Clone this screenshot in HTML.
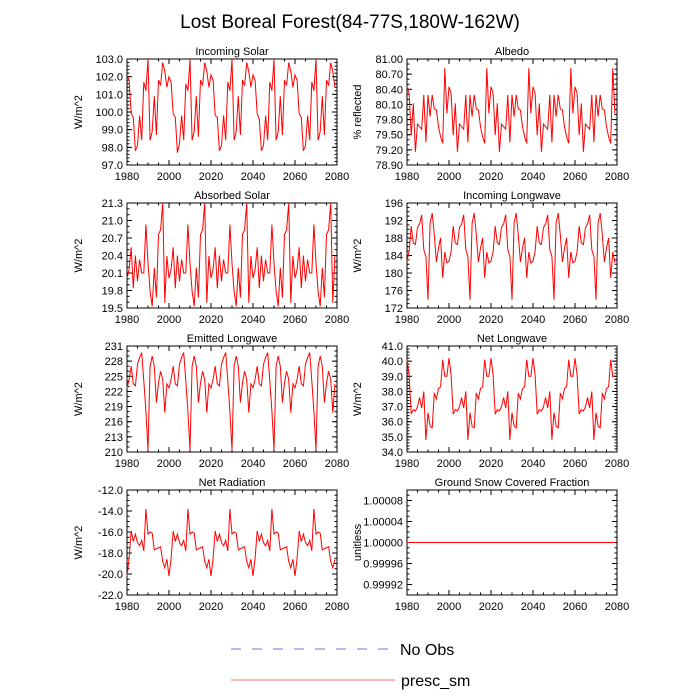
<!DOCTYPE html>
<html><head><meta charset="utf-8"><style>
html,body{margin:0;padding:0;background:#fff;}
svg{display:block;font-family:"Liberation Sans",sans-serif;}
</style></head><body>
<svg id="chart" width="700" height="700" viewBox="0 0 700 700" xmlns="http://www.w3.org/2000/svg">
<text x="350" y="28" font-size="19" text-anchor="middle">Lost Boreal Forest(84-77S,180W-162W)</text>
<g id="panels"></g>
<g>
<line x1="231" y1="649" x2="390" y2="649" stroke="#7070e8" stroke-width="1" stroke-dasharray="10,11"/>
<text x="400" y="655" font-size="16">No Obs</text>
<line x1="231" y1="680" x2="395" y2="680" stroke="#ff7070" stroke-width="1"/>
<text x="401" y="686" font-size="16">presc_sm</text>
</g>
</svg>
<script>
const years = [];
for (let y = 1980; y < 2080; y++) years.push(y);
const xTicks = [1980, 2000, 2020, 2040, 2060, 2080];

const incomingSolar = [
102.1,101.8,99.9,99.7,97.8,98.1,99.8,98.4,101.7,101.2,103.0,98.4,98.9,100.9,98.7,101.8,101.5,102.8,102.3,101.4,
102.0,101.7,99.9,99.7,97.7,98.2,99.8,98.4,101.6,101.2,103.0,98.4,98.9,100.9,98.6,101.8,101.5,102.8,102.3,101.4,
102.1,101.8,99.8,99.7,97.8,98.1,99.8,98.4,101.7,101.2,103.0,98.4,98.9,100.9,98.7,101.8,101.5,102.8,102.3,101.4,
102.1,101.8,99.9,99.6,97.8,98.1,99.8,98.4,101.7,101.2,103.0,98.4,98.9,100.9,98.7,101.8,101.5,102.8,102.3,101.4,
102.1,101.8,99.9,99.7,97.8,98.1,99.8,98.4,101.7,101.2,103.0,98.4,98.9,100.9,98.7,101.8,101.5,102.8,102.3,101.4];
const albedo = [
80.45,80.32,79.49,80.12,79.16,79.71,79.66,79.61,80.29,79.35,80.29,79.86,80.29,80.01,79.99,79.66,79.46,79.33,80.82,79.92,
80.45,80.32,79.49,80.12,79.16,79.71,79.66,79.61,80.29,79.35,80.29,79.86,80.29,80.01,79.99,79.66,79.46,79.33,80.82,79.92,
80.45,80.32,79.49,80.12,79.16,79.71,79.66,79.61,80.29,79.35,80.29,79.86,80.29,80.01,79.99,79.66,79.46,79.33,80.82,79.92,
80.45,80.32,79.49,80.12,79.16,79.71,79.66,79.61,80.29,79.35,80.29,79.86,80.29,80.01,79.99,79.66,79.46,79.33,80.82,79.92,
80.45,80.32,79.49,80.12,79.16,79.71,79.66,79.61,80.29,79.35,80.29,79.86,80.29,80.01,79.99,79.66,79.46,79.33,80.82,79.92];
const absorbedSolar = [
20.01,20.16,20.54,19.84,20.40,19.96,20.33,20.10,20.10,20.93,20.27,19.79,19.53,20.19,19.68,20.76,20.84,21.30,19.59,20.39,
20.01,20.16,20.54,19.84,20.40,19.96,20.33,20.10,20.10,20.93,20.27,19.79,19.53,20.19,19.68,20.76,20.84,21.30,19.59,20.39,
20.01,20.16,20.54,19.84,20.40,19.96,20.33,20.10,20.10,20.93,20.27,19.79,19.53,20.19,19.68,20.76,20.84,21.30,19.59,20.39,
20.01,20.16,20.54,19.84,20.40,19.96,20.33,20.10,20.10,20.93,20.27,19.79,19.53,20.19,19.68,20.76,20.84,21.30,19.59,20.39,
20.01,20.16,20.54,19.84,20.40,19.96,20.33,20.10,20.10,20.93,20.27,19.79,19.53,20.19,19.68,20.76,20.84,21.30,19.59,20.39];
const incomingLW = [
182.7,184.9,190.7,186.9,186.5,190.4,191.2,193.3,185.3,183.8,173.9,191.4,193.7,188.8,182.5,185.7,188.0,178.9,184.8,182.3,
182.7,184.9,190.7,186.9,186.5,190.4,191.2,193.3,185.3,183.8,173.9,191.4,193.7,188.8,182.5,185.7,188.0,178.9,184.8,182.3,
182.7,184.9,190.7,186.9,186.5,190.4,191.2,193.3,185.3,183.8,173.9,191.4,193.7,188.8,182.5,185.7,188.0,178.9,184.8,182.3,
182.7,184.9,190.7,186.9,186.5,190.4,191.2,193.3,185.3,183.8,173.9,191.4,193.7,188.8,182.5,185.7,188.0,178.9,184.8,182.3,
182.7,184.9,190.7,186.9,186.5,190.4,191.2,193.3,185.3,183.8,173.9,191.4,193.7,188.8,182.5,185.7,188.0,178.9,184.8,182.3];
const emittedLW = [
222.7,224.4,227.0,223.5,223.1,227.4,228.7,229.7,224.1,218.1,210.4,227.0,229.0,227.0,219.8,223.7,226.0,224.4,217.8,223.5,
222.7,224.4,227.0,223.5,223.1,227.4,228.7,229.7,224.1,218.1,210.4,227.0,229.0,227.0,219.8,223.7,226.0,224.4,217.8,223.5,
222.7,224.4,227.0,223.5,223.1,227.4,228.7,229.7,224.1,218.1,210.4,227.0,229.0,227.0,219.8,223.7,226.0,224.4,217.8,223.5,
222.7,224.4,227.0,223.5,223.1,227.4,228.7,229.7,224.1,218.1,210.4,227.0,229.0,227.0,219.8,223.7,226.0,224.4,217.8,223.5,
222.7,224.4,227.0,223.5,223.1,227.4,228.7,229.7,224.1,218.1,210.4,227.0,229.0,227.0,219.8,223.7,226.0,224.4,217.8,223.5];
const netLW = [
40.1,39.1,36.5,36.8,36.7,37.0,37.6,36.9,38.0,34.8,36.6,35.7,35.6,37.9,37.5,38.2,38.3,40.1,39.0,39.0,
40.2,39.1,36.5,36.8,36.7,37.0,37.6,36.9,38.0,34.8,36.6,35.7,35.6,37.9,37.5,38.2,38.3,40.1,39.0,39.0,
40.2,39.1,36.5,36.8,36.7,37.0,37.6,36.9,38.0,34.8,36.6,35.7,35.6,37.9,37.5,38.2,38.3,40.1,39.0,39.0,
40.2,39.1,36.5,36.8,36.7,37.0,37.6,36.9,38.0,34.8,36.6,35.7,35.6,37.9,37.5,38.2,38.3,40.1,39.0,39.0,
40.2,39.1,36.5,36.8,36.7,37.0,37.6,36.9,38.0,34.8,36.6,35.7,35.6,37.9,37.5,38.2,38.3,40.1,39.0,39.0];
const netRadiation = [
-20.2,-18.5,-15.9,-16.9,-16.2,-17.0,-17.3,-16.8,-17.8,-13.8,-16.2,-16.0,-16.1,-17.7,-17.6,-17.5,-17.4,-18.8,-19.4,-18.6,
-20.2,-18.5,-15.9,-16.9,-16.2,-17.0,-17.3,-16.8,-17.8,-13.8,-16.2,-16.0,-16.1,-17.7,-17.6,-17.5,-17.4,-18.8,-19.4,-18.6,
-20.2,-18.5,-15.9,-16.9,-16.2,-17.0,-17.3,-16.8,-17.8,-13.8,-16.2,-16.0,-16.1,-17.7,-17.6,-17.5,-17.4,-18.8,-19.4,-18.6,
-20.2,-18.5,-15.9,-16.9,-16.2,-17.0,-17.3,-16.8,-17.8,-13.8,-16.2,-16.0,-16.1,-17.7,-17.6,-17.5,-17.4,-18.8,-19.4,-18.6,
-20.2,-18.5,-15.9,-16.9,-16.2,-17.0,-17.3,-16.8,-17.8,-13.8,-16.2,-16.0,-16.1,-17.7,-17.6,-17.5,-17.4,-18.8,-19.4,-18.6];
const snowFraction = years.map(() => 1.0);

const ticksSolar = ["97.0","98.0","99.0","100.0","101.0","102.0","103.0"];
const ticksAlbedo = ["78.90","79.20","79.50","79.80","80.10","80.40","80.70","81.00"];
const ticksAbsorbed = ["19.5","19.8","20.1","20.4","20.7","21.0","21.3"];
const ticksInLW = ["172","176","180","184","188","192","196"];
const ticksEmLW = ["210","213","216","219","222","225","228","231"];
const ticksNetLW = ["34.0","35.0","36.0","37.0","38.0","39.0","40.0","41.0"];
const ticksNetRad = ["-22.0","-20.0","-18.0","-16.0","-14.0","-12.0"];
const ticksSnow = ["0.99992","0.99996","1.00000","1.00004","1.00008"];

const panels = [
 {name:"incoming-solar", title:"Incoming Solar", ytitle:"W/m^2", data:incomingSolar, ticks:ticksSolar, ymin:97, ymax:103, col:0, row:0, minor:5},
 {name:"albedo", title:"Albedo", ytitle:"% reflected", data:albedo, ticks:ticksAlbedo, ymin:78.9, ymax:81.0, col:1, row:0, minor:3},
 {name:"absorbed-solar", title:"Absorbed Solar", ytitle:"W/m^2", data:absorbedSolar, ticks:ticksAbsorbed, ymin:19.5, ymax:21.3, col:0, row:1, minor:3},
 {name:"incoming-longwave", title:"Incoming Longwave", ytitle:"W/m^2", data:incomingLW, ticks:ticksInLW, ymin:172, ymax:196, col:1, row:1, minor:4},
 {name:"emitted-longwave", title:"Emitted Longwave", ytitle:"W/m^2", data:emittedLW, ticks:ticksEmLW, ymin:210, ymax:231, col:0, row:2, minor:3},
 {name:"net-longwave", title:"Net Longwave", ytitle:"W/m^2", data:netLW, ticks:ticksNetLW, ymin:34, ymax:41, col:1, row:2, minor:5},
 {name:"net-radiation", title:"Net Radiation", ytitle:"W/m^2", data:netRadiation, ticks:ticksNetRad, ymin:-22, ymax:-12, col:0, row:3, minor:4},
 {name:"ground-snow-covered-fraction", title:"Ground Snow Covered Fraction", ytitle:"unitless", data:snowFraction, ticks:ticksSnow, ymin:0.9999, ymax:1.0001, col:1, row:3, minor:4, tickmin:0.99992, tickstep:0.00004}
];

const NS = "http://www.w3.org/2000/svg";
const colX = [127, 407], W = 210;
const rowY = [[59,165],[203,308],[346,452],[490,595]];
const root = document.getElementById("panels");
function mk(tag, attrs, parent){
  const e = document.createElementNS(NS, tag);
  for (const k in attrs) e.setAttribute(k, attrs[k]);
  parent.appendChild(e);
  return e;
}
panels.forEach(p => {
  const x0 = colX[p.col], x1 = x0 + W, y0 = rowY[p.row][0], y1 = rowY[p.row][1];
  const g = mk("g", {}, root);
  
  
  const xs = v => x0 + (v - 1980) / 100 * W;
  const ys = v => y1 - (v - p.ymin) / (p.ymax - p.ymin) * (y1 - y0);
  // ticks
  const tk = mk("g", {stroke:"#000", "stroke-width":"1"}, g);
  
  
  for (let yr = 1980; yr <= 2080; yr += 5) {
    const X = xs(yr), len = (yr % 20 === 0) ? 5 : 2.5;
    mk("line", {x1:X, y1:y1, x2:X, y2:y1-len}, tk);
    mk("line", {x1:X, y1:y0, x2:X, y2:y0+len}, tk);
  }
  const tmin = p.tickmin !== undefined ? p.tickmin : parseFloat(p.ticks[0]);
  const step = p.tickstep !== undefined ? p.tickstep : (parseFloat(p.ticks[1]) - parseFloat(p.ticks[0]));
  const mstep = step / p.minor;
  for (let v = tmin - step; v <= p.ymax + 1e-9; v += mstep) {
    if (v < p.ymin - 1e-9) continue;
    const Y = ys(v);
    mk("line", {x1:x0, y1:Y, x2:x0+2.5, y2:Y}, tk);
    mk("line", {x1:x1, y1:Y, x2:x1-2.5, y2:Y}, tk);
  }
  p.ticks.forEach((t, i) => {
    const v = tmin + i * step, Y = ys(v);
    mk("line", {x1:x0, y1:Y, x2:x0+5, y2:Y}, tk);
    mk("line", {x1:x1, y1:Y, x2:x1-5, y2:Y}, tk);
    const lb = mk("text", {x:x0-4, y:Y+4, "font-size":"11", "text-anchor":"end"}, g);
    lb.textContent = t;
    
    
  });
  xTicks.forEach(t => {
    const lb = mk("text", {x:xs(t), y:y1+15, "font-size":"11", "text-anchor":"middle"}, g);
    lb.textContent = t;
    
    
  });
  // frame
  const fr = mk("rect", {x:x0, y:y0, width:W, height:y1-y0, fill:"none", stroke:"#000", "stroke-width":"1"}, g);
  
  
  // series
  const pts = p.data.map((v, i) => xs(years[i]).toFixed(2) + "," + ys(v).toFixed(2)).join(" ");
  const ln = mk("polyline", {points:pts, fill:"none", stroke:"#ff0000", "stroke-width":"1"}, g);
  
  
  // titles
  const tt = mk("text", {x:(x0+x1)/2, y:y0-4, "font-size":"11", "text-anchor":"middle"}, g);
  tt.textContent = p.title;
  
  
  const yx = p.col === 0 ? 82 : 361;
  const yt = mk("text", {x:yx, y:(y0+y1)/2, "font-size":"11", "text-anchor":"middle", transform:`rotate(-90 ${yx} ${(y0+y1)/2})`}, g);
  yt.textContent = p.ytitle;
  
  
});
</script>
</body></html>
